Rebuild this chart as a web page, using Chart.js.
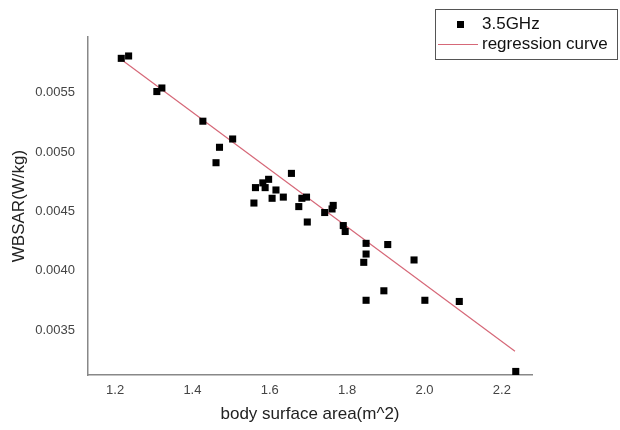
<!DOCTYPE html>
<html>
<head>
<meta charset="utf-8">
<script src="https://cdn.jsdelivr.net/npm/chart.js@4.4.0/dist/chart.umd.min.js"></script>
<style>
    html, body { margin: 0; padding: 0; background: #fff; }
</style>
</head>
<body>
<canvas id="myChart" width="620" height="430"></canvas>
<script>
// body surface area (m^2) and whole-body SAR (W/kg) per model
var bsa = [1.216, 1.235, 1.308, 1.321, 1.427, 1.504, 1.470, 1.461, 1.656, 1.597,
           1.582, 1.563, 1.588, 1.616, 1.635, 1.606, 1.559, 1.683, 1.695, 1.675,
           1.697, 1.764, 1.761, 1.742, 1.790, 1.795, 1.849, 1.905, 1.849, 1.843,
           1.973, 1.895, 1.849, 2.001, 2.090, 2.236];
var wbsar = [0.00579, 0.00581, 0.00551, 0.00554, 0.00526, 0.00511, 0.00504, 0.00491, 0.00482, 0.00477,
             0.00474, 0.00470, 0.00470, 0.00468, 0.00462, 0.00461, 0.00457, 0.00461, 0.00462, 0.00454,
             0.00441, 0.00455, 0.00452, 0.00449, 0.00438, 0.00433, 0.00423, 0.00422, 0.00414, 0.00407,
             0.00409, 0.00383, 0.00375, 0.00375, 0.00374, 0.00315];

// regression curve end points
var fitX = [1.216, 2.234];
var fitY = [0.00578, 0.00332];

var xTicks = [1.2, 1.4, 1.6, 1.8, 2.0, 2.2];
var yTicks = [0.0035, 0.0040, 0.0045, 0.0050, 0.0055];

var fontFamily = '"Liberation Sans", Arial, sans-serif';
var fitColor = 'rgb(214, 104, 120)';

function toPoints(xs, ys) {
    return xs.map(function (x, i) { return {x: x, y: ys[i]}; });
}

// boxed legend in the top right corner
var legendBox = {
    id: 'legendBox',
    afterDraw: function (chart) {
        var ctx = chart.ctx;
        var sets = chart.data.datasets;
        ctx.save();
        ctx.strokeStyle = '#555';
        ctx.lineWidth = 1;
        ctx.strokeRect(435.5, 9.5, 182, 50);
        ctx.fillStyle = '#000';
        ctx.fillRect(457, 21, 7, 7);
        ctx.strokeStyle = fitColor;
        ctx.lineWidth = 1.2;
        ctx.beginPath();
        ctx.moveTo(438, 44.5);
        ctx.lineTo(478, 44.5);
        ctx.stroke();
        ctx.font = '17px ' + fontFamily;
        ctx.textBaseline = 'middle';
        ctx.fillStyle = '#111';
        ctx.fillText(sets[0].label, 482, 24);
        ctx.fillText(sets[1].label, 482, 44);
        ctx.restore();
    }
};

var ctx = document.getElementById('myChart').getContext('2d');
var myChart = new Chart(ctx, {
    type: 'scatter',
    data: {
        datasets: [{
                label: '3.5GHz',
                data: toPoints(bsa, wbsar),
                pointStyle: 'rect',
                pointRadius: 5,
                backgroundColor: '#000',
                borderWidth: 0
            }, {
                label: 'regression curve',
                data: toPoints(fitX, fitY),
                showLine: true,
                borderColor: fitColor,
                borderWidth: 1.2,
                pointRadius: 0
            }]
    },
    options: {
        responsive: false,
        animation: false,
        layout: {padding: {left: 0, top: 37, right: 88, bottom: 5}},
        plugins: {
            legend: {display: false},
            tooltip: {enabled: false}
        },
        scales: {
            x: {
                type: 'linear',
                min: 1.13,
                max: 2.278,
                afterBuildTicks: function (scale) {
                    scale.ticks = xTicks.map(function (v) { return {value: v}; });
                },
                afterFit: function (scale) { scale.height = 50; },
                grid: {display: false, drawTicks: false},
                border: {display: true, color: '#888', width: 1.5},
                ticks: {
                    padding: 8,
                    color: '#444',
                    font: {family: fontFamily, size: 13},
                    callback: function (v) { return v.toFixed(1); }
                },
                title: {
                    display: true,
                    text: 'body surface area(m^2)',
                    color: '#222',
                    font: {family: fontFamily, size: 17},
                    padding: {top: 4, bottom: 0}
                }
            },
            y: {
                min: 0.00312,
                max: 0.00597,
                afterBuildTicks: function (scale) {
                    scale.ticks = yTicks.map(function (v) { return {value: v}; });
                },
                afterFit: function (scale) { scale.width = 88; },
                grid: {display: false, drawTicks: false},
                border: {display: true, color: '#888', width: 1.5},
                ticks: {
                    padding: 13,
                    color: '#444',
                    font: {family: fontFamily, size: 13},
                    callback: function (v) { return v.toFixed(4); }
                },
                title: {
                    display: true,
                    text: 'WBSAR(W/kg)',
                    color: '#222',
                    font: {family: fontFamily, size: 17},
                    padding: {top: 9, bottom: 4}
                }
            }
        }
    },
    plugins: [legendBox]
});
</script>
</body>
</html>
